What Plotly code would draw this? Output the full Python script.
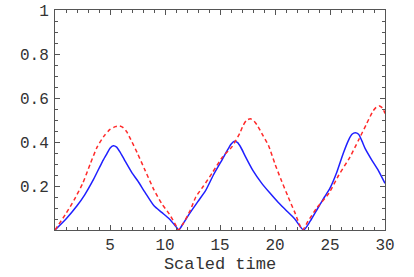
import plotly.graph_objects as go

blue_x = [0, 1, 2, 2.7, 3.5, 4.3, 4.7, 5.0, 5.3, 5.6, 5.9, 6.3, 7.0, 7.5, 8.2, 9.0, 9.7, 10.4, 11.0,
          11.25, 11.6, 12.3, 13.0, 13.7, 14.4, 15.2, 15.7, 16.0, 16.3, 16.6, 16.9, 17.3, 18.0, 18.8,
          19.5, 20.3, 21.0, 21.8, 22.6, 23.2, 23.9, 24.5, 25.0, 25.6, 26.2, 26.7, 27.0, 27.3, 27.6,
          27.9, 28.2, 28.8, 29.4, 30.0]
blue_y = [0, 0.05, 0.11, 0.16, 0.23, 0.31, 0.345, 0.372, 0.383, 0.377, 0.355, 0.32, 0.26, 0.225,
          0.17, 0.11, 0.08, 0.05, 0.015, 0, 0.025, 0.08, 0.13, 0.18, 0.25, 0.32, 0.365, 0.39, 0.403,
          0.397, 0.375, 0.335, 0.27, 0.212, 0.17, 0.125, 0.09, 0.05, 0, 0.04, 0.10, 0.15, 0.19, 0.26,
          0.348, 0.41, 0.435, 0.442, 0.435, 0.405, 0.37, 0.318, 0.27, 0.212]

red_x = [0, 1, 1.73, 2.5, 3.2, 3.85, 4.5, 5.0, 5.5, 5.88, 6.2, 6.5, 7.0, 7.5, 8.2, 9.0, 9.7, 10.4,
         11.0, 11.2, 11.6, 12.3, 12.8, 13.5, 14.3, 15.2, 16.1, 16.8, 17.1, 17.4, 17.76, 18.1, 18.4,
         18.9, 19.4, 20.0, 20.5, 21.2, 21.8, 22.5, 23.0, 23.8, 24.9, 25.8, 26.8, 27.6, 28.3, 28.9,
         29.2, 29.5, 29.8, 30.0]
red_y = [0, 0.075, 0.136, 0.21, 0.30, 0.379, 0.43, 0.457, 0.470, 0.473, 0.465, 0.448, 0.40, 0.348,
         0.27, 0.182, 0.12, 0.072, 0.02, 0, 0.025, 0.09, 0.15, 0.20, 0.26, 0.33, 0.379, 0.44, 0.475,
         0.498, 0.506, 0.495, 0.475, 0.43, 0.385, 0.30, 0.235, 0.15, 0.08, 0, 0.04, 0.10, 0.167,
         0.25, 0.33, 0.409, 0.48, 0.54, 0.558, 0.564, 0.553, 0.53]

x_ticks = [5, 10, 15, 20, 25, 30]
x_ticktext = ["5", "10", "15", "20", "25", "30"]
y_ticks = [0.2, 0.4, 0.6, 0.8, 1.0]
y_ticktext = ["0.2", "0.4", "0.6", "0.8", "1"]
x_title = "Scaled time"

font = "Liberation Mono, Courier New, monospace"
axis_col = "#555555"
text_col = "#333333"

fig = go.Figure()
fig.add_trace(go.Scatter(x=blue_x, y=blue_y, mode="lines",
                         line=dict(color="#1f1fff", width=1.5, shape="spline", smoothing=0.6)))
fig.add_trace(go.Scatter(x=red_x, y=red_y, mode="lines",
                         line=dict(color="#ff2a2a", width=1.5, dash="4px,3px",
                                   shape="spline", smoothing=0.6)))

common = dict(showgrid=False, zeroline=False, showline=True, linecolor=axis_col, linewidth=1,
              mirror="allticks", ticks="inside", ticklen=5, tickcolor=axis_col, tickwidth=1,
              automargin=False,
              tickfont=dict(family=font, size=16, color=text_col))

fig.update_xaxes(range=[0, 30], tickvals=x_ticks, ticktext=x_ticktext,
                 minor=dict(ticks="inside", ticklen=3, dtick=1, tick0=0, tickcolor=axis_col),
                 title=dict(text=x_title, font=dict(family=font, size=17, color=text_col), standoff=2),
                 **common)
fig.update_yaxes(range=[0, 1], tickvals=y_ticks, ticktext=y_ticktext,
                 minor=dict(ticks="inside", ticklen=3, dtick=0.05, tick0=0, tickcolor=axis_col),
                 ticklabelstandoff=2,
                 **common)

fig.update_layout(width=414, height=277, showlegend=False,
                  margin=dict(l=55, r=29, t=10, b=47),
                  plot_bgcolor="white", paper_bgcolor="white")

# remove the browser's default 8px page margin so the figure fills the window exactly
fig.write_html("out.html", config={"displayModeBar": False},
               post_script="document.body.style.margin='0px';")
